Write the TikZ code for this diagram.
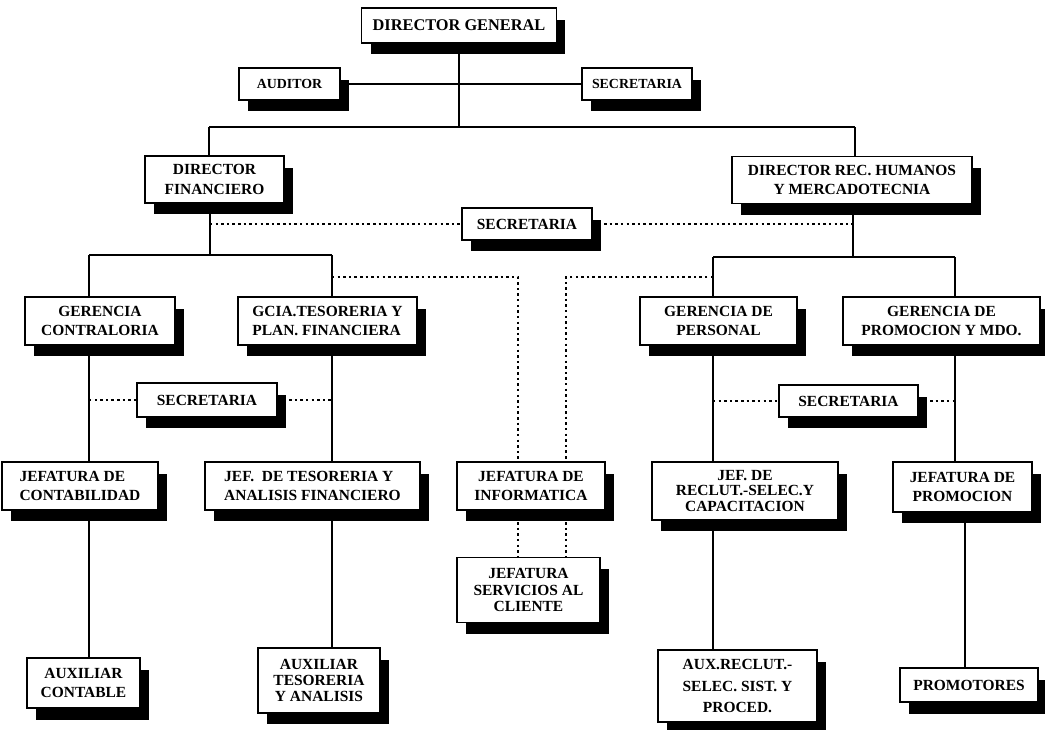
\documentclass[tikz,border=0pt]{standalone}
\usepackage{fontspec}
\setmainfont{Liberation Serif}
\usepackage{tikz}
\usetikzlibrary{shadows}

\begin{document}
\begin{tikzpicture}[x=0.02cm,y=-0.02cm,line width=0.95pt]
  \tikzstyle{box}=[draw=black, fill=white, line width=1pt, align=center, inner sep=1pt,
    font=\bfseries\fontsize{8.8}{11.2}\selectfont,
    drop shadow={shadow xshift=0.18cm, shadow yshift=-0.23cm, fill=black, opacity=1}]
  \tikzstyle{dots}=[dash pattern=on 1.4pt off 1.8pt]
  \useasboundingbox (0,0) rectangle (1045,730);

  % nivel direccion
  \node[box, minimum width=3.9cm, minimum height=0.7cm, font=\bfseries\fontsize{9.3}{11}\selectfont] (dg) at (459,25.5) {DIRECTOR GENERAL};
  \node[box, minimum width=2.02cm, minimum height=0.64cm, font=\bfseries\fontsize{7.9}{9}\selectfont] (aud) at (289.5,84) {AUDITOR};
  \node[box, minimum width=2.2cm, minimum height=0.64cm, font=\bfseries\fontsize{7.9}{9}\selectfont] (secA) at (637,84) {SECRETARIA};
  \node[box, minimum width=2.78cm, minimum height=0.94cm] (dfin) at (214.5,179.5) {DIRECTOR\\FINANCIERO};
  \node[box, minimum width=4.8cm, minimum height=0.94cm] (drh) at (852,180) {DIRECTOR REC. HUMANOS\\Y MERCADOTECNIA};
  \node[box, minimum width=2.6cm, minimum height=0.64cm] (secB) at (527,224) {SECRETARIA};

  % gerencias
  \node[box, minimum width=3.0cm, minimum height=0.96cm] (gcon) at (100,321) {GERENCIA\\CONTRALORIA};
  \node[box, minimum width=3.58cm, minimum height=0.96cm, align=left] (gtes) at (327.5,321) {GCIA.TESORERIA Y\\PLAN. FINANCIERA};
  \node[box, minimum width=3.14cm, minimum height=0.96cm] (gper) at (718.5,321) {GERENCIA DE\\PERSONAL};
  \node[box, minimum width=3.94cm, minimum height=0.96cm] (gpro) at (941.5,321) {GERENCIA DE\\PROMOCION Y MDO.};
  \node[box, minimum width=2.8cm, minimum height=0.68cm] (secC) at (207,400) {SECRETARIA};
  \node[box, minimum width=2.78cm, minimum height=0.64cm] (secD) at (848.5,401) {SECRETARIA};

  % jefaturas
  \node[box, minimum width=3.12cm, minimum height=0.96cm, align=left] (jcon) at (80,486) {JEFATURA DE\\CONTABILIDAD};
  \node[box, minimum width=4.3cm, minimum height=0.96cm, align=left] (jtes) at (312.5,486) {JEF.~ DE TESORERIA Y\\ANALISIS FINANCIERO};
  \node[box, minimum width=2.96cm, minimum height=0.96cm] (jinf) at (531,486) {JEFATURA DE\\INFORMATICA};
  \node[box, minimum width=3.72cm, minimum height=1.16cm, font=\bfseries\fontsize{8.8}{8.6}\selectfont] (jrec) at (745,491) {JEF. DE\\RECLUT.-SELEC.Y\\CAPACITACION};
  \node[box, minimum width=2.78cm, minimum height=1.0cm] (jpro) at (962.5,487) {JEFATURA DE\\PROMOCION};
  \node[box, minimum width=2.86cm, minimum height=1.3cm, font=\bfseries\fontsize{8.8}{9.6}\selectfont] (jser) at (528.5,590) {JEFATURA\\SERVICIOS AL\\CLIENTE};

  % auxiliares
  \node[box, minimum width=2.26cm, minimum height=1.0cm] (auxc) at (83.5,683) {AUXILIAR\\CONTABLE};
  \node[box, minimum width=2.44cm, minimum height=1.3cm, font=\bfseries\fontsize{8.8}{9}\selectfont] (auxt) at (319,680.5) {AUXILIAR\\TESORERIA\\Y ANALISIS};
  \node[box, minimum width=3.18cm, minimum height=1.44cm, font=\bfseries\fontsize{8.8}{12}\selectfont] (auxr) at (737.5,686) {AUX.RECLUT.-\\SELEC. SIST. Y\\PROCED.};
  \node[box, minimum width=2.76cm, minimum height=0.68cm] (prom) at (969,685) {PROMOTORES};

  \coordinate (t0) at (460,127);
  \coordinate (tL) at (209,127);
  \coordinate (tR) at (855,127);
  \coordinate (f0) at (210,255);
  \coordinate (fL) at (89,255);
  \coordinate (fR) at (332,255);
  \coordinate (g0) at (853,257);
  \coordinate (gL) at (713,257);
  \coordinate (gR) at (955,257);
  \coordinate (dL) at (518,277);
  \coordinate (dR) at (566,277);
  \coordinate (p0) at (965,600);

  % lineas de mando
  \draw (dg.south) -- (dg.south |- t0);
  \draw (aud.east) -- (secA.west);
  \draw (tL) -- (tR);
  \draw (tL) -- (tL |- dfin.north);
  \draw (tR) -- (tR |- drh.north);

  \draw (f0) -- (f0 |- dfin.south);
  \draw (fL) -- (fR);
  \draw (fL) -- (fL |- gcon.north);
  \draw (fR) -- (fR |- gtes.north);
  \draw (fL |- gcon.south) -- (fL |- jcon.north);
  \draw (fL |- jcon.south) -- (fL |- auxc.north);
  \draw (fR |- gtes.south) -- (fR |- jtes.north);
  \draw (fR |- jtes.south) -- (fR |- auxt.north);

  \draw (g0) -- (g0 |- drh.south);
  \draw (gL) -- (gR);
  \draw (gL) -- (gL |- gper.north);
  \draw (gR) -- (gR |- gpro.north);
  \draw (gL |- gper.south) -- (gL |- jrec.north);
  \draw (gL |- jrec.south) -- (gL |- auxr.north);
  \draw (gR |- gpro.south) -- (gR |- jpro.north);
  \draw (p0 |- jpro.south) -- (p0 |- prom.north);

  % lineas de staff
  \draw[dots] (f0 |- secB.west) -- (secB.west);
  \draw[dots] (secB.east) -- (g0 |- secB.east);
  \draw[dots] (fR |- dL) -- (dL) -- (dL |- jinf.north);
  \draw[dots] (dL |- jinf.south) -- (dL |- jser.north);
  \draw[dots] (gL |- dR) -- (dR) -- (dR |- jinf.north);
  \draw[dots] (dR |- jinf.south) -- (dR |- jser.north);
  \draw[dots] (fL |- secC.west) -- (secC.west);
  \draw[dots] (secC.east) -- (fR |- secC.east);
  \draw[dots] (gL |- secD.west) -- (secD.west);
  \draw[dots] (secD.east) -- (gR |- secD.east);
\end{tikzpicture}
\end{document}
